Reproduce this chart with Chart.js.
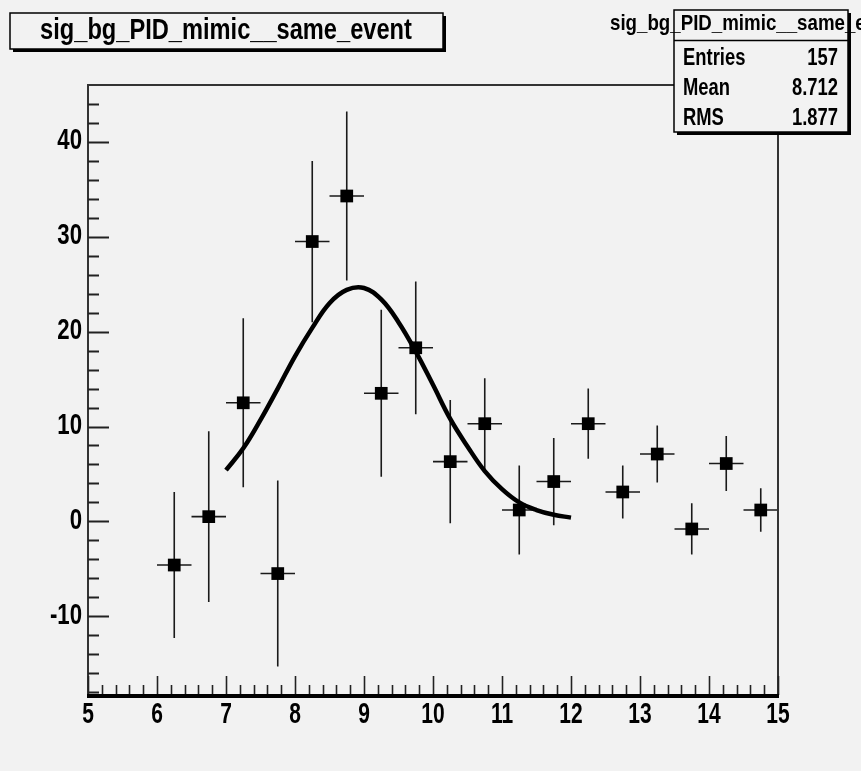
<!DOCTYPE html>
<html>
<head>
<meta charset="utf-8">
<script src="https://cdn.jsdelivr.net/npm/chart.js@4"></script>
<style>
  html, body { margin: 0; padding: 0; background: #f2f2f2; }
  canvas { display: block; }
</style>
</head>
<body>
<canvas id="hist" width="861" height="771"></canvas>
<script>
// histogram bins (centres), contents and errors
const binCenters = [6.25, 6.75, 7.25, 7.75, 8.25, 8.75, 9.25, 9.75, 10.25, 10.75, 11.25, 11.75, 12.25, 12.75, 13.25, 13.75, 14.25, 14.75];
const binContents = [-4.6, 0.5, 12.5, -5.5, 29.5, 34.3, 13.5, 18.3, 6.3, 10.3, 1.2, 4.2, 10.3, 3.1, 7.1, -0.8, 6.1, 1.2];
const binErrors = [7.7, 9.0, 8.9, 9.8, 8.5, 8.9, 8.8, 7.0, 6.5, 4.8, 4.7, 4.6, 3.7, 2.8, 3.0, 2.7, 2.9, 2.3];
const binHalfWidth = 0.25;

// fitted gaussian, sampled by eye from the drawn curve
const fitX = [7, 7.25, 7.5, 7.75, 8, 8.25, 8.5, 8.75, 9, 9.25, 9.5, 9.75, 10, 10.25, 10.5, 10.75, 11, 11.25, 11.5, 11.75, 12];
const fitY = [5.4, 7.7, 10.7, 14.0, 17.4, 20.4, 23.0, 24.4, 24.6, 23.4, 21.0, 17.9, 14.4, 10.8, 7.9, 5.3, 3.4, 2.0, 1.2, 0.7, 0.4];

// axes
const xTicks = [5, 6, 7, 8, 9, 10, 11, 12, 13, 14, 15];
const yTicks = [-10, 0, 10, 20, 30, 40];
const xRange = [5, 15];
const yRange = [-18.3, 46.0];

// stats box
const histTitle = 'sig_bg_PID_mimic__same_event';
const statLabels = ['Entries', 'Mean', 'RMS'];
const statValues = ['157', '8.712', '1.877'];

const FONT = "'Liberation Sans', Arial, sans-serif";

// -----------------------------------------------------------------
// helpers: ROOT uses a condensed helvetica, so squeeze the text
// -----------------------------------------------------------------
function narrowText(ctx, text, x, y, size, sx, align) {
    ctx.save();
    ctx.font = 'bold ' + size + 'px ' + FONT;
    ctx.textAlign = align;
    ctx.textBaseline = 'middle';
    ctx.fillStyle = '#000';
    ctx.translate(x, y);
    ctx.scale(sx, 1);
    ctx.fillText(text, 0, 0);
    ctx.restore();
}

function shadowBox(ctx, x, y, w, h) {
    ctx.fillStyle = '#000';
    ctx.fillRect(x + 3, y + 3, w, h);
    ctx.fillStyle = '#f2f2f2';
    ctx.fillRect(x, y, w, h);
    ctx.strokeStyle = '#000';
    ctx.lineWidth = 1.5;
    ctx.strokeRect(x, y, w, h);
}

const rootPlugin = {
    id: 'rootStyle',
    beforeDraw(chart) {
        const ctx = chart.ctx;
        ctx.save();
        ctx.fillStyle = '#f2f2f2';
        ctx.fillRect(0, 0, chart.width, chart.height);
        ctx.restore();
    },
    beforeDatasetsDraw(chart) {
        const ctx = chart.ctx;
        const xs = chart.scales.x, ys = chart.scales.y;
        const a = chart.chartArea;
        ctx.save();

        // error bars
        ctx.strokeStyle = '#1a1a1a';
        ctx.lineWidth = 1.6;
        binCenters.forEach((c, i) => {
            const px = xs.getPixelForValue(c);
            const py = ys.getPixelForValue(binContents[i]);
            ctx.beginPath();
            ctx.moveTo(xs.getPixelForValue(c - binHalfWidth), py);
            ctx.lineTo(xs.getPixelForValue(c + binHalfWidth), py);
            ctx.moveTo(px, ys.getPixelForValue(binContents[i] + binErrors[i]));
            ctx.lineTo(px, ys.getPixelForValue(binContents[i] - binErrors[i]));
            ctx.stroke();
        });

        // frame
        ctx.strokeStyle = '#333';
        ctx.lineWidth = 2;
        ctx.strokeRect(a.left, a.top, a.right - a.left, a.bottom - a.top);

        // y ticks (major every 10, minor every 2), drawn inside
        ctx.strokeStyle = '#222';
        ctx.lineWidth = 2;
        for (let v = -18; v <= 46; v += 2) {
            const py = Math.round(ys.getPixelForValue(v)) + 0.5;
            if (py < a.top + 2 || py > a.bottom - 1) continue;
            const len = (v % 10 === 0) ? 21 : 11;
            ctx.beginPath();
            ctx.moveTo(a.left, py);
            ctx.lineTo(a.left + len, py);
            ctx.stroke();
        }
        // x ticks (major every 1, minor every 0.2)
        ctx.lineWidth = 1.6;
        for (let k = 0; k <= 50; k++) {
            const v = xRange[0] + k * 0.2;
            const px = Math.round(xs.getPixelForValue(v)) + 0.5;
            const len = (k % 5 === 0) ? 19 : 10;
            ctx.beginPath();
            ctx.moveTo(px, a.bottom);
            ctx.lineTo(px, a.bottom - len);
            ctx.stroke();
        }
        // thick x axis line
        ctx.strokeStyle = '#000';
        ctx.lineWidth = 4;
        ctx.beginPath();
        ctx.moveTo(a.left - 1, a.bottom + 1);
        ctx.lineTo(a.right + 1, a.bottom + 1);
        ctx.stroke();
        ctx.restore();
    },
    afterDraw(chart) {
        const ctx = chart.ctx;
        const xs = chart.scales.x, ys = chart.scales.y;
        const a = chart.chartArea;
        ctx.save();

        // tick labels
        yTicks.forEach(v => narrowText(ctx, String(v), a.left - 6, ys.getPixelForValue(v) - 1, 30, 0.74, 'right'));
        xTicks.forEach(v => narrowText(ctx, String(v), xs.getPixelForValue(v), a.bottom + 20, 30, 0.7, 'center'));

        // title box
        shadowBox(ctx, 10, 13, 433, 36);
        narrowText(ctx, histTitle, 226, 31, 29, 0.815, 'center');

        // stats box
        shadowBox(ctx, 674, 10, 174, 122);
        ctx.strokeStyle = '#000';
        ctx.lineWidth = 1.5;
        ctx.beginPath();
        ctx.moveTo(674, 40.5);
        ctx.lineTo(848, 40.5);
        ctx.stroke();
        narrowText(ctx, histTitle, 610, 24, 22, 0.85, 'left');
        statLabels.forEach((lab, i) => {
            const y = 58.5 + i * 30;
            narrowText(ctx, lab, 683, y, 23, 0.8, 'left');
            narrowText(ctx, statValues[i], 838, y, 23, 0.8, 'right');
        });
        ctx.restore();
    }
};

const ctx = document.getElementById('hist').getContext('2d');
new Chart(ctx, {
    type: 'scatter',
    data: {
        datasets: [
            {
                label: 'fit',
                data: fitX.map((x, i) => ({ x: x, y: fitY[i] })),
                showLine: true,
                borderColor: '#000',
                borderWidth: 4.5,
                pointRadius: 0,
                tension: 0.4,
                order: 1
            },
            {
                label: 'hist',
                data: binCenters.map((x, i) => ({ x: x, y: binContents[i] })),
                pointStyle: 'rect',
                pointRadius: 9,
                backgroundColor: '#000',
                borderColor: '#000',
                borderWidth: 0,
                order: 2
            }
        ]
    },
    options: {
        responsive: false,
        animation: false,
        layout: { padding: { left: 88, top: 85, right: 83, bottom: 76 } },
        plugins: { legend: { display: false }, tooltip: { enabled: false } },
        scales: {
            x: { type: 'linear', min: xRange[0], max: xRange[1], display: false },
            y: { type: 'linear', min: yRange[0], max: yRange[1], display: false }
        }
    },
    plugins: [rootPlugin]
});
</script>
</body>
</html>
